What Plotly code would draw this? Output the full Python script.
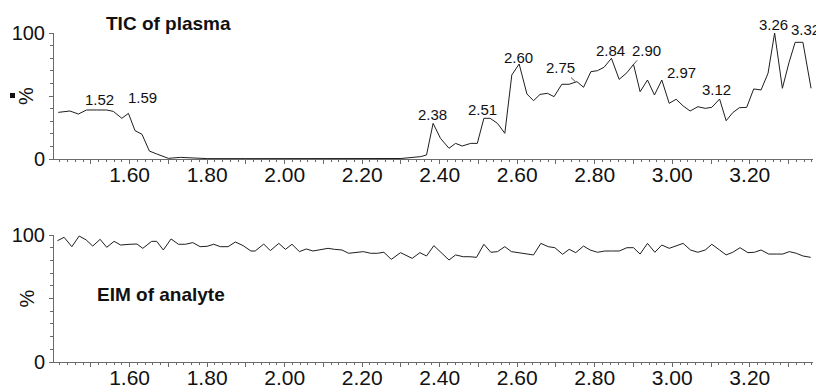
import plotly.graph_objects as go

# ---------------- data ----------------
tic_time = [1.416, 1.446, 1.468, 1.489, 1.515, 1.541, 1.558, 1.580, 1.597, 1.614,
            1.632, 1.651, 1.670, 1.700, 1.731, 1.756, 1.800, 1.900, 2.000, 2.100,
            2.200, 2.300, 2.351, 2.366, 2.383, 2.402, 2.424, 2.441, 2.458, 2.480,
            2.497, 2.514, 2.530, 2.549, 2.568, 2.586, 2.605, 2.625, 2.642, 2.659,
            2.678, 2.695, 2.715, 2.734, 2.754, 2.771, 2.790, 2.807, 2.824, 2.843,
            2.863, 2.883, 2.900, 2.917, 2.936, 2.954, 2.973, 2.992, 3.010, 3.028,
            3.046, 3.066, 3.085, 3.102, 3.122, 3.139, 3.156, 3.173, 3.192, 3.210,
            3.229, 3.247, 3.264, 3.284, 3.301, 3.317, 3.337, 3.358]
tic_pct = [37.0, 38.1, 35.7, 38.9, 38.9, 38.9, 37.8, 32.3, 36.2, 22.5,
           19.6, 6.3, 4.0, 0.5, 1.3, 0.8, 0.3, 0.3, 0.3, 0.3,
           0.3, 0.4, 1.9, 3.2, 28.3, 16.4, 8.5, 12.4, 10.3, 12.4,
           12.4, 32.3, 32.3, 28.3, 20.4, 66.7, 75.4, 51.6, 46.3, 51.3,
           52.1, 49.5, 59.3, 59.3, 61.4, 56.9, 69.3, 70.1, 72.8, 79.9,
           63.2, 68.5, 75.1, 53.4, 62.7, 50.8, 62.7, 44.2, 47.4, 42.1,
           38.1, 41.5, 40.2, 41.0, 47.6, 30.4, 36.8, 40.7, 41.0, 55.6,
           54.8, 68.0, 100.0, 56.1, 76.5, 92.6, 92.6, 56.1]

eim_time = [1.414, 1.431, 1.451, 1.470, 1.488, 1.505, 1.524, 1.541, 1.560, 1.577,
            1.601, 1.619, 1.634, 1.657, 1.670, 1.687, 1.707, 1.726, 1.744, 1.763,
            1.782, 1.800, 1.817, 1.834, 1.854, 1.873, 1.893, 1.913, 1.924, 1.946,
            1.963, 1.985, 2.002, 2.019, 2.038, 2.056, 2.073, 2.092, 2.112, 2.129,
            2.148, 2.165, 2.185, 2.203, 2.222, 2.239, 2.256, 2.275,
            2.299, 2.329, 2.349, 2.366, 2.385, 2.404, 2.424, 2.441, 2.461, 2.478,
            2.495, 2.514, 2.532, 2.549, 2.568, 2.585, 2.605, 2.622, 2.642, 2.661,
            2.680, 2.697, 2.717, 2.734, 2.751, 2.771, 2.788, 2.807, 2.826, 2.843,
            2.863, 2.883, 2.900, 2.917, 2.936, 2.955, 2.973, 2.992, 3.010, 3.028,
            3.047, 3.066, 3.085, 3.102, 3.122, 3.139, 3.156, 3.175, 3.195, 3.212,
            3.229, 3.249, 3.268, 3.285, 3.302, 3.320, 3.337, 3.357]
eim_pct = [95.5, 98.2, 90.8, 99.2, 96.1, 91.3, 96.6, 90.3, 95.0, 92.1,
           92.7, 92.9, 89.5, 95.0, 95.0, 88.2, 96.9, 92.7, 92.7, 94.0,
           90.8, 91.1, 92.7, 90.8, 90.8, 94.5, 91.6, 87.4, 87.4, 92.9,
           87.7, 93.4, 88.7, 92.7, 86.9, 89.0, 87.4, 88.7, 89.5, 88.7,
           88.2, 85.6, 86.1, 86.9, 85.6, 85.6, 86.4, 80.8,
           86.1, 81.6, 86.1, 83.5, 91.6, 86.1, 80.3, 84.3, 82.9, 82.9,
           82.4, 92.7, 86.4, 86.9, 90.8, 86.9, 86.1, 85.6, 84.3, 93.4,
           90.8, 90.0, 84.8, 88.7, 86.1, 91.3, 88.2, 86.4, 87.4, 87.4,
           87.4, 90.0, 90.0, 85.0, 93.4, 86.4, 92.1, 89.5, 91.6, 93.4,
           88.2, 86.4, 88.2, 92.7, 88.2, 84.3, 86.4, 90.0, 86.1, 86.4,
           88.2, 85.0, 85.0, 85.0, 86.9, 85.6, 83.5, 82.4]

peak_labels = ["1.52", "1.59", "2.38", "2.51", "2.60", "2.75", "2.84",
               "2.90", "2.97", "3.12", "3.26", "3.32"]

x_tick_values = [1.5, 1.6, 1.7, 1.8, 1.9, 2.0, 2.1, 2.2, 2.3, 2.4,
                 2.5, 2.6, 2.7, 2.8, 2.9, 3.0, 3.1, 3.2, 3.3]
x_tick_labels = ["", "1.60", "", "1.80", "", "2.00", "", "2.20", "", "2.40",
                 "", "2.60", "", "2.80", "", "3.00", "", "3.20", ""]
y_tick_values = [0, 50, 100]
y_tick_labels = ["0", "", "100"]

# ---------------- styling / placement ----------------
label_offsets = [(1, -10), (17, -16), (1, -9), (0, -9), (1, -7), (-15, -14),
                 (0, -8), (13, -14), (21, -8), (-2, -10), (0, -9), (9, -13)]
leader_lines = [False, False, False, False, False, True,
                False, True, False, False, False, False]

FONT = "Liberation Sans, Arial, sans-serif"
LINE = "#1e1e1e"
AXIS = "#6a6a6a"
X_RANGE = [1.405, 3.363]
# the page body adds an 8px offset; margins are shifted to compensate
W, H = 824, 388
L, R, T, B = 46, 19, 25, 34
PW = W - L - R
PH = H - T - B

fig = go.Figure()
fig.add_trace(go.Scatter(x=tic_time, y=tic_pct, mode="lines",
                         line=dict(color=LINE, width=1), xaxis="x", yaxis="y",
                         hoverinfo="skip"))
fig.add_trace(go.Scatter(x=eim_time, y=eim_pct, mode="lines",
                         line=dict(color=LINE, width=1), xaxis="x2", yaxis="y2",
                         hoverinfo="skip"))

def xaxis_style(anchor):
    return dict(range=X_RANGE, anchor=anchor, showgrid=False, zeroline=False,
                automargin=False,
                showline=True, linecolor=AXIS, linewidth=1,
                ticks="outside", ticklen=4, tickcolor=AXIS, tickwidth=1,
                ticklabelstandoff=-7,
                tickvals=x_tick_values, ticktext=x_tick_labels,
                tickfont=dict(family=FONT, size=21, color="#111"),
                minor=dict(ticks="outside", ticklen=2, dtick=0.02, tick0=1.4,
                           tickcolor=AXIS, showgrid=False))

def yaxis_style(anchor, domain):
    return dict(range=[0, 100], domain=domain, anchor=anchor, showgrid=False,
                automargin=False,
                zeroline=False, showline=True, linecolor=AXIS, linewidth=1,
                ticks="outside", ticklen=4, tickcolor=AXIS, tickwidth=1,
                tickvals=y_tick_values, ticktext=y_tick_labels,
                tickfont=dict(family=FONT, size=20, color="#111"),
                minor=dict(ticks="outside", ticklen=3, dtick=10, tickcolor=AXIS,
                           showgrid=False))

annotations = []
for lab, (dx, dy), lead in zip(peak_labels, label_offsets, leader_lines):
    t = float(lab)
    i = min(range(len(tic_time)), key=lambda k: abs(tic_time[k] - t))
    annotations.append(dict(x=t, y=tic_pct[i], xref="x", yref="y", text=lab,
                            showarrow=True, ax=dx, ay=dy, arrowhead=0,
                            arrowwidth=0.8, standoff=0,
                            arrowcolor=LINE if lead else "rgba(0,0,0,0)",
                            font=dict(family=FONT, size=15, color="#111")))

annotations.append(dict(x=1.700, y=1.079, xref="x", yref="y domain",
                        xanchor="center", yanchor="middle",
                        text="<b>TIC of plasma</b>",
                        showarrow=False, font=dict(family=FONT, size=19, color="#111")))
annotations.append(dict(x=1.681, y=0.528, xref="x2", yref="y2 domain",
                        xanchor="center", yanchor="middle",
                        text="<b>EIM of analyte</b>",
                        showarrow=False, font=dict(family=FONT, size=19, color="#111")))
for yr in ["y domain", "y2 domain"]:
    annotations.append(dict(x=-28 / PW, y=0.5, xref="paper", yref=yr, text="%",
                            xanchor="center", yanchor="middle",
                            textangle=-90, showarrow=False,
                            font=dict(family=FONT, size=20, color="#111")))

shapes = [dict(type="rect", xref="paper", yref="y domain", x0=-44 / PW,
               x1=-39 / PW, y0=0.484, y1=0.524,
               fillcolor="#111", line=dict(width=0))]

fig.update_layout(
    width=W, height=H,
    margin=dict(l=L, r=R, t=T, b=B, autoexpand=False),
    paper_bgcolor="white", plot_bgcolor="white",
    showlegend=False,
    xaxis=xaxis_style("y"),
    yaxis=yaxis_style("x", [1 - 126 / PH, 1]),
    xaxis2=xaxis_style("y2"),
    yaxis2=yaxis_style("x2", [0, 127 / PH]),
    annotations=annotations,
    shapes=shapes,
)

fig.write_html("out.html", config={"displayModeBar": False})
